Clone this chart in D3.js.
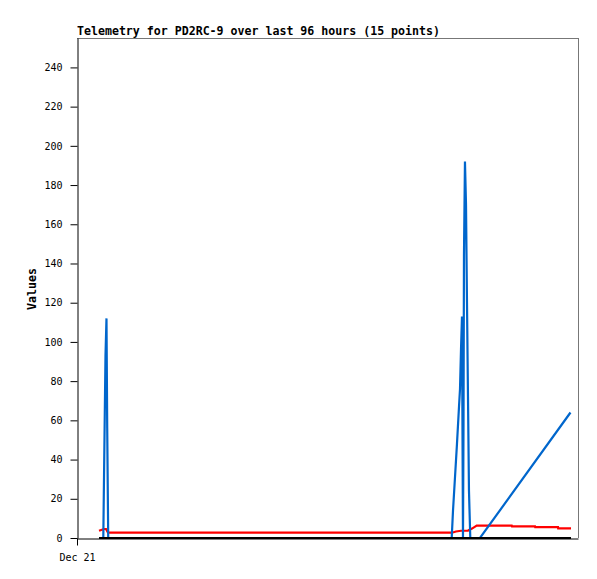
<!DOCTYPE html>
<html>
<head>
<meta charset="utf-8">
<script src="https://cdn.jsdelivr.net/npm/d3@7"></script>
<style>
  html, body { margin: 0; padding: 0; background: #fff; }
  svg { display: block; }
</style>
</head>
<body>
<svg id="chart" width="597" height="579"></svg>
<script>
// ---- data (hours after Dec 21 00:00, values) ----
const titleText = "Telemetry for PD2RC-9 over last 96 hours (15 points)";
const yLabel = "Values";
const yTicks = [0, 20, 40, 60, 80, 100, 120, 140, 160, 180, 200, 220, 240];
const xTickLabels = ["Dec 21"];
const spanHours = 96;

const blueHours = [4.22, 5.04, 5.14, 5.29, 5.46, 5.65, 5.79, 5.98, 71.80, 72.05, 72.43, 72.81, 73.20, 73.39, 73.58, 73.77, 73.96, 74.06, 74.15, 74.34, 74.54, 74.73, 74.92, 75.11, 75.36, 77.22, 94.56];
const blueValues = [0, 0, 23, 56, 93, 112, 56, 0, 0, 14, 31, 48, 67, 76, 96, 113, 0, 57, 144, 192, 170, 120, 72, 24, 0, 0, 64];

const redHours = [4.22, 5.17, 5.56, 5.94, 71.86, 72.62, 73.58, 74.92, 75.69, 76.59, 83.30, 83.35, 87.76, 87.80, 92.17, 92.20, 94.66];
const redValues = [3.7, 4.6, 4.6, 2.7, 2.7, 3.3, 3.7, 3.8, 4.8, 6.3, 6.3, 5.9, 5.9, 5.5, 5.5, 4.9, 4.9];

const blackHours = [4.22, 94.66];
const blackValues = [0, 0];

// ---- layout ----
const mL = 77, mR = 578, mT = 38, mB = 538;
const svg = d3.select("#chart");
const t0 = Date.UTC(2023, 11, 21);
const toDate = h => new Date(t0 + h * 3600 * 1000);

const x = d3.scaleUtc().domain([toDate(0), toDate(spanHours)]).range([mL, mR]);
const y = d3.scaleLinear().domain([0, 255]).range([mB, mT]);

const mono = "'DejaVu Sans Mono', 'Liberation Mono', monospace";

// frame (top/right gray)
svg.append("line").attr("x1", mL).attr("x2", mR + 0.5).attr("y1", mT + 0.5).attr("y2", mT + 0.5)
  .attr("stroke", "#777").attr("stroke-width", 1);
svg.append("line").attr("x1", mR + 0.5).attr("x2", mR + 0.5).attr("y1", mT).attr("y2", mB)
  .attr("stroke", "#777").attr("stroke-width", 1);

// y axis
const yAxis = d3.axisLeft(y).tickValues(yTicks).tickSize(7).tickPadding(8).tickSizeOuter(0);
const gy = svg.append("g").attr("transform", `translate(${mL + 0.5},0)`).call(yAxis);
gy.select(".domain").attr("stroke", "#000");
gy.selectAll(".tick line").attr("stroke", "#000");
gy.selectAll("text").attr("font-family", mono).attr("font-size", "10px").attr("fill", "#000");

// x axis
const xAxis = d3.axisBottom(x).tickValues([toDate(0)]).tickFormat((d, i) => xTickLabels[i])
  .tickSize(7).tickPadding(8).tickSizeOuter(0);
const gx = svg.append("g").attr("transform", `translate(0,${mB + 0.5})`).call(xAxis);
gx.select(".domain").attr("stroke", "#000");
gx.selectAll(".tick line").attr("stroke", "#000");
gx.selectAll("text").attr("font-family", mono).attr("font-size", "10px").attr("fill", "#000");

// title
svg.append("text").attr("x", mL).attr("y", 35).text(titleText)
  .attr("font-family", mono).attr("font-weight", "bold").attr("font-size", "11.6px").attr("fill", "#000");

// y label
svg.append("text").attr("transform", `translate(36,289) rotate(-90)`).attr("text-anchor", "middle")
  .text(yLabel).attr("font-family", mono).attr("font-weight", "bold").attr("font-size", "11.6px").attr("fill", "#000");

// series
function series(hours, values) { return hours.map((h, i) => [toDate(h), values[i]]); }
const line = d3.line().x(d => x(d[0])).y(d => y(d[1]));

svg.append("path").datum(series(redHours, redValues)).attr("d", line)
  .attr("fill", "none").attr("stroke", "#ff0000").attr("stroke-width", 2.2);
svg.append("path").datum(series(blueHours, blueValues)).attr("d", line)
  .attr("fill", "none").attr("stroke", "#0066cc").attr("stroke-width", 2.2);
svg.append("path").datum(series(blackHours, blackValues)).attr("d", line)
  .attr("fill", "none").attr("stroke", "#000").attr("stroke-width", 2);
</script>
</body>
</html>
